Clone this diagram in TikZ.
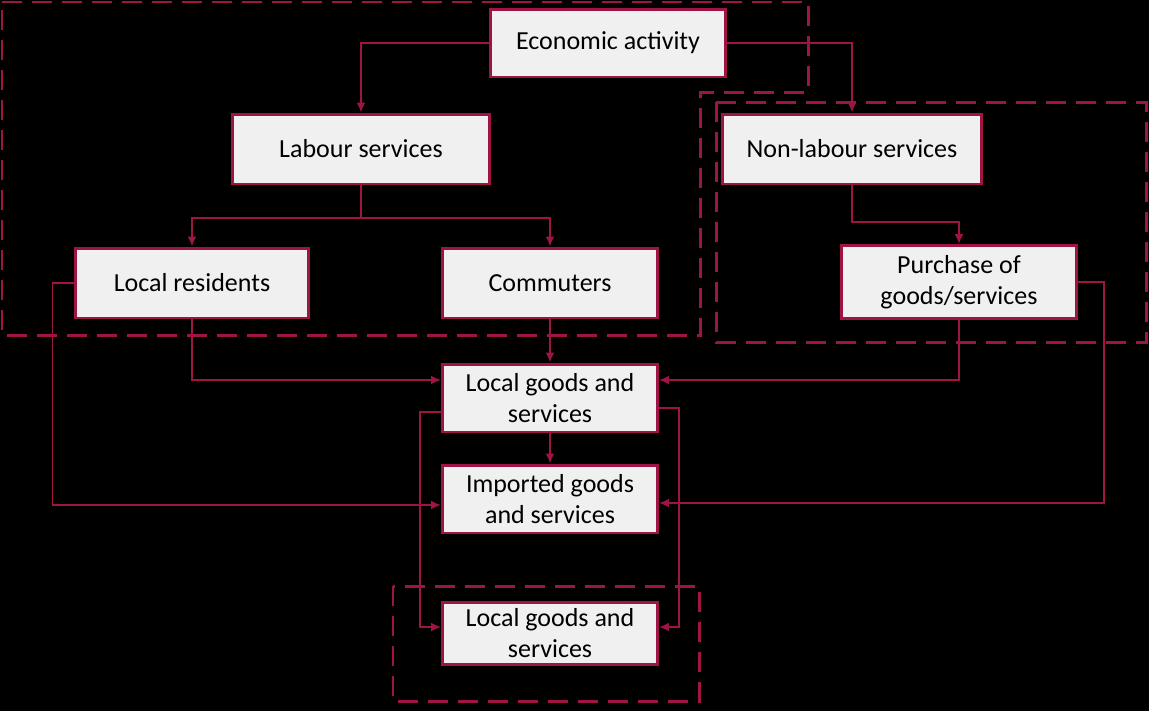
\documentclass[tikz,border=0pt]{standalone}
\usepackage{fontspec}
\setmainfont{Carlito}
\usepackage{tikz}
\usetikzlibrary{arrows.meta,positioning}
\definecolor{maroon}{RGB}{158,20,70}
\definecolor{boxgray}{RGB}{240,240,240}

\begin{document}
\begin{tikzpicture}[x=0.02cm,y=-0.02cm,>=Latex,
flow box/.style={draw=maroon,fill=boxgray,line width=1.7pt,inner sep=0pt,align=center,font=\fontsize{14.8}{17.6}\selectfont},
flow/.style={-{Latex[length=2mm,width=1.8mm]},draw=maroon,line width=1.1pt},
region/.style={draw=maroon,line width=1.7pt,dash pattern=on 0.4cm off 0.2cm}]
\fill[black] (0,0) rectangle (1149,711);
\useasboundingbox (0,0) rectangle (1149,711);
% dashed regions
\draw[region] (2,2) -- (808,2) -- (808,92) -- (700,92) -- (700,335) -- (2,335) -- cycle;
\draw[region] (716,102) rectangle (1146,342);
\draw[region] (393,586) rectangle (699,701);
% boxes
\node[flow box,minimum width=4.72cm,minimum height=1.36cm] (econ) at (608,43) {Economic activity};
\node[flow box,minimum width=5.16cm,minimum height=1.4cm] (labour) at (361,149) {Labour services};
\node[flow box,minimum width=5.18cm,minimum height=1.4cm] (nonlab) at (852,149) {Non-labour services};
\node[flow box,minimum width=4.68cm,minimum height=1.4cm] (resid) at (192,283) {Local residents};
\node[flow box,minimum width=4.3cm,minimum height=1.4cm] (commut) at (550,283) {Commuters};
\node[flow box,minimum width=4.7cm,minimum height=1.46cm] (purch) at (959,282) {Purchase of\\goods/services};
\node[flow box,minimum width=4.3cm,minimum height=1.36cm] (local1) at (550,398) {Local goods and\\services};
\node[flow box,minimum width=4.3cm,minimum height=1.36cm] (imported) at (550,499) {Imported goods\\and services};
\node[flow box,minimum width=4.3cm,minimum height=1.24cm] (local2) at (550,633) {Local goods and\\services};
% bends
\coordinate (split1) at (361,218);
\coordinate (split2) at (857,222);
% connectors
\draw[flow] (econ.west) -| (labour.north);
\draw[flow] (econ.east) -| (nonlab.north);
\draw[flow] (labour.south) -- (split1) -| (resid.north);
\draw[flow] (split1) -| (commut.north);
\draw[flow] (nonlab.south) -- (nonlab.south |- split2) -| (purch.north);
\draw[flow] (resid.south) |- ([yshift=0.36cm]local1.west);
\draw[flow] (commut.south) -- (local1.north);
\draw[flow] (purch.south) |- ([yshift=0.36cm]local1.east);
\draw[flow] (resid.west) -- ++(-21,0) |- ([yshift=-0.12cm]imported.west);
\draw[flow] (purch.east) -- ++(26,0) |- ([yshift=-0.08cm]imported.east);
\draw[flow] (local1.south) -- (imported.north);
\draw[flow] ([yshift=-0.28cm]local1.west) -- ++(-21,0) |- ([yshift=0.12cm]local2.west);
\draw[flow] ([yshift=-0.2cm]local1.east) -- ++(20,0) |- ([yshift=0.12cm]local2.east);
\end{tikzpicture}
\end{document}
